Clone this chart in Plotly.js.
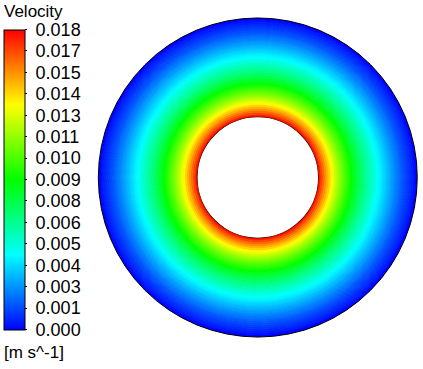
<!DOCTYPE html>
<html>
<head>
<meta charset="utf-8">
<script src="https://cdn.plot.ly/plotly-3.0.1.min.js"></script>
<style>
  html, body { margin: 0; padding: 0; background: #ffffff; }
  #chart { width: 423px; height: 369px; }
</style>
</head>
<body>
<div id="chart"></div>
<script>
// Ring edges, as fraction of the outer radius (inner wall at 0.384)
var ringEdges = [0.384, 0.3965, 0.409, 0.4215, 0.434, 0.4465, 0.459, 0.4715, 0.484, 0.4965,
  0.509, 0.5215, 0.534, 0.5465, 0.559, 0.5715, 0.584, 0.5965, 0.609, 0.6215,
  0.634, 0.6465, 0.659, 0.6715, 0.684, 0.6965, 0.709, 0.7215, 0.734, 0.7465,
  0.759, 0.7715, 0.784, 0.7965, 0.809, 0.8215, 0.834, 0.8465, 0.859, 0.8715,
  0.884, 0.8965, 0.909, 0.9215, 0.934, 0.9465, 0.959, 0.9715, 0.984, 1.0];

// Velocity read in each ring [m s^-1]
var ringVelocity = [0.0174, 0.0167, 0.0160, 0.0153, 0.0147, 0.0141, 0.0135, 0.0130, 0.0124, 0.0119,
  0.0114, 0.0110, 0.0105, 0.0101, 0.0097, 0.0093, 0.0089, 0.0085, 0.0081, 0.0078,
  0.0074, 0.0071, 0.0067, 0.0064, 0.0061, 0.0058, 0.0055, 0.0052, 0.0049, 0.0046,
  0.0043, 0.0041, 0.0038, 0.0036, 0.0033, 0.0031, 0.0028, 0.0026, 0.0023, 0.0021,
  0.0019, 0.0016, 0.0014, 0.0012, 0.0010, 0.0008, 0.0006, 0.0004, 0.0001];

// Legend scale
var velocityMin = 0.0;
var velocityMax = 0.01783;
var tickLabels = ['0.000', '0.001', '0.003', '0.004', '0.005', '0.006', '0.008', '0.009',
  '0.010', '0.011', '0.013', '0.014', '0.015', '0.017', '0.018'];

var rainbow = [
  [0.0, 'rgb(0,0,255)'],
  [0.25, 'rgb(0,255,255)'],
  [0.5, 'rgb(0,255,0)'],
  [0.75, 'rgb(255,255,0)'],
  [1.0, 'rgb(255,0,0)']
];

var n = ringVelocity.length;
var bases = ringEdges.slice(0, n);
var lengths = ringVelocity.map(function (v, i) { return ringEdges[i + 1] - ringEdges[i]; });
var thetas = ringVelocity.map(function () { return 180; });
var widths = ringVelocity.map(function () { return 360; });
var tickVals = tickLabels.map(function (t, i) {
  return velocityMin + (velocityMax - velocityMin) * i / (tickLabels.length - 1);
});
var tickText = tickLabels.map(function (t) { return '\u00a0' + t; });

var FONT = 'Liberation Sans, Arial, sans-serif';

var trace = {
  type: 'barpolar',
  r: lengths,
  base: bases,
  theta: thetas,
  width: widths,
  hoverinfo: 'skip',
  marker: {
    color: ringVelocity,
    colorscale: rainbow,
    cmin: velocityMin,
    cmax: velocityMax,
    line: {
      color: ringVelocity,
      colorscale: rainbow,
      cmin: velocityMin,
      cmax: velocityMax,
      width: 0.8
    },
    showscale: true,
    colorbar: {
      x: 3.5 / 423,
      xanchor: 'left',
      xpad: 0,
      y: (369 - 29.5) / 369,
      yanchor: 'top',
      ypad: 0,
      len: 300,
      lenmode: 'pixels',
      thickness: 21,
      thicknessmode: 'pixels',
      outlinecolor: '#000000',
      outlinewidth: 1,
      ticks: 'outside',
      ticklen: 2,
      tickwidth: 1,
      tickcolor: '#000000',
      tickmode: 'array',
      tickvals: tickVals,
      ticktext: tickText,
      tickfont: { family: FONT, size: 18, color: '#000000' }
    }
  }
};

var layout = {
  width: 423,
  height: 369,
  margin: { l: 0, r: 0, t: 0, b: 0, pad: 0 },
  paper_bgcolor: '#ffffff',
  showlegend: false,
  polar: {
    domain: { x: [0.2324, 0.9865], y: [0.0867, 0.9512] },
    bgcolor: 'rgba(0,0,0,0)',
    barmode: 'overlay',
    radialaxis: {
      range: [0, 1],
      tickmode: 'array',
      tickvals: [ringEdges[0]],
      showticklabels: false,
      ticks: '',
      showline: false,
      showgrid: true,
      gridcolor: '#000000',
      gridwidth: 2
    },
    angularaxis: {
      showline: true,
      linecolor: '#000000',
      linewidth: 1,
      showgrid: false,
      showticklabels: false,
      ticks: ''
    }
  },
  annotations: [
    { text: 'Velocity', xref: 'paper', yref: 'paper', x: 2 / 423, y: (369 - 12) / 369,
      xanchor: 'left', yanchor: 'middle', showarrow: false,
      font: { family: FONT, size: 17, color: '#000000' } },
    { text: '[m s^-1]', xref: 'paper', yref: 'paper', x: 2 / 423, y: (369 - 352) / 369,
      xanchor: 'left', yanchor: 'middle', showarrow: false,
      font: { family: FONT, size: 17, color: '#000000' } }
  ]
};

Plotly.newPlot('chart', [trace], layout, { displayModeBar: false, staticPlot: true });
</script>
</body>
</html>
